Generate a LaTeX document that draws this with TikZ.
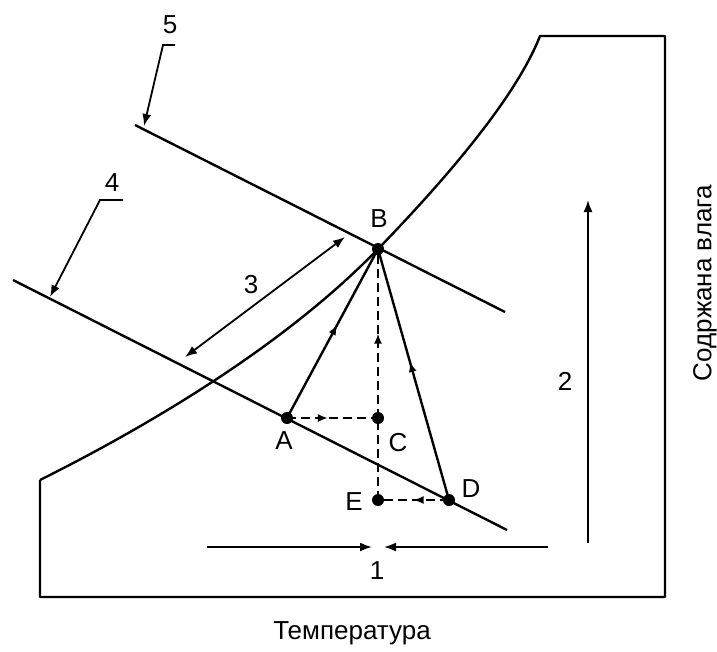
\documentclass[tikz,border=0pt]{standalone}
\usepackage{fontspec}
\setmainfont{Liberation Sans}
\usetikzlibrary{arrows.meta,decorations.markings,positioning}

\tikzset{
  dot/.style={circle,fill,inner sep=0pt,minimum size=12pt},
  mainline/.style={line width=2.4pt},
  guide/.style={line width=1.8pt},
  dashline/.style={line width=2.2pt,dash pattern=on 9pt off 5pt},
  midarrow/.style={postaction={decorate},decoration={markings,
      mark=at position #1 with {\arrow{Latex[length=10pt,width=8pt]}}}},
  midarrow/.default=0.5,
  tip/.style={-{Latex[length=12pt,width=9pt]}},
  tips/.style={{Latex[length=12pt,width=9pt]}-{Latex[length=12pt,width=9pt]}}
}

\begin{document}
\begin{tikzpicture}[x=1pt,y=-1pt,font=\fontsize{26}{30}\selectfont]
      \useasboundingbox (0,0) rectangle (717,651);

      % chart frame and saturation curve
      \draw [mainline, line join=round] (40,480) -- (40,597) -- (665,597) -- (665,36)
        -- (540,36) .. controls (515,100) and (440,185) .. (378,249)
        .. controls (285,345) and (150,425) .. (40,480);

      % constant lines 5 and 4
      \coordinate (l5a) at (135,125);
      \coordinate (l5b) at (505,312);
      \coordinate (l4a) at (13,280);
      \coordinate (l4b) at (507,530);
      \draw [mainline] (l5a) -- (l5b);
      \draw [mainline] (l4a) -- (l4b);

      % states
      \node [dot] (B) at (378,249) {};
      \node [dot] (A) at (287,418) {};
      \node [dot] (C) at (378,418) {};
      \node [dot] (E) at (378,500) {};
      \node [dot] (D) at (449,500) {};
      \draw (379,219) node (labB) {B};
      \draw (284,441) node (labA) {A};
      \draw (398,443) node (labC) {C};
      \draw (354,502) node (labE) {E};
      \draw (471,489) node (labD) {D};

      % paths to B
      \draw [mainline, midarrow=0.55] (A.center) -- (B.center);
      \draw [mainline, midarrow=0.55] (D.center) -- (B.center);
      \draw [dashline, midarrow=0.45] (A.center) -- (C.center);
      \draw [dashline, midarrow=0.5] (C.center) -- (B.center);
      \draw [dashline] (E.center) -- (C.center);
      \draw [dashline, midarrow=0.5] (D.center) -- (E.center);

      % distance 3
      \coordinate (d3a) at (185,357);
      \coordinate (d3b) at (345,237);
      \draw [guide, tips] (d3a) -- (d3b);
      \draw (251,285) node (n3) {3};

      % leaders 5 and 4
      \coordinate (k5) at (163,45);
      \coordinate (t5) at (144,126);
      \draw [guide, tip] (175,45) -- (k5) -- (t5);
      \draw (170,25) node (n5) {5};
      \coordinate (k4) at (100,200);
      \coordinate (t4) at (50,297);
      \draw [guide, tip] (123,200) -- (k4) -- (t4);
      \draw (112,183) node (n4) {4};

      % arrows 1 and 2
      \coordinate (h1a) at (207,547);
      \coordinate (h1b) at (372,547);
      \coordinate (h1c) at (548,547);
      \coordinate (h1d) at (384,547);
      \draw [guide, tip] (h1a) -- (h1b);
      \draw [guide, tip] (h1c) -- (h1d);
      \draw (377,571) node (n1) {1};
      \coordinate (v2a) at (588,543);
      \coordinate (v2b) at (588,200);
      \draw [guide, tip] (v2a) -- (v2b);
      \draw (565,381) node (n2) {2};

      % axis titles
      \draw (352,633) node (xt) {Температура};
      \draw (705,283) node [rotate=90] (yt) {Содржана влага};
    \end{tikzpicture}
\end{document}
